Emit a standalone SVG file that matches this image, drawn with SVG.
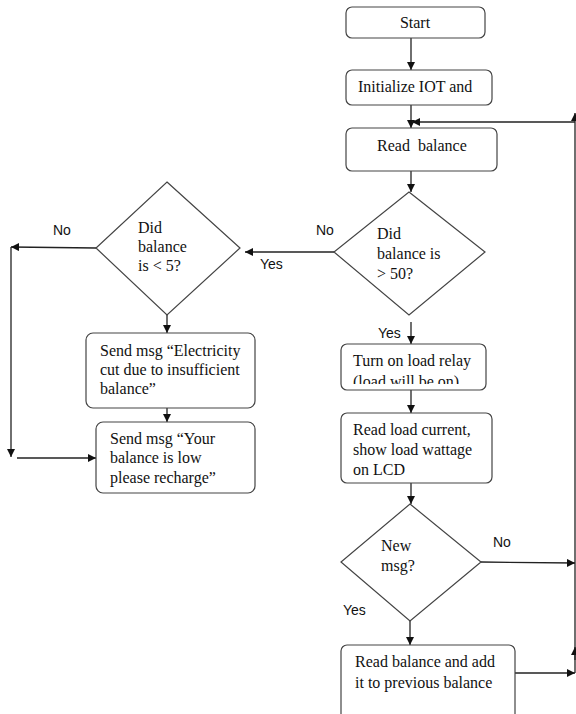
<svg xmlns="http://www.w3.org/2000/svg" width="576" height="714" viewBox="0 0 576 714">
<style>
.box{fill:#fff;stroke:#444;stroke-width:1.2}
.dia{fill:#fff;stroke:#444;stroke-width:1.2}
.t{font-family:"Liberation Sans",Arial,sans-serif;font-size:16px;fill:#111;white-space:pre}
.t{font-family:"Liberation Serif","Times New Roman",serif}
.lbl{font-family:"Liberation Sans",Arial,sans-serif;font-size:14px;fill:#111}
.ar{fill:none;stroke:#222;stroke-width:1.3;marker-end:url(#ah)}
</style>
<defs>
<marker id="ah" viewBox="0 0 10 10" refX="10" refY="5" markerWidth="8" markerHeight="8" markerUnits="userSpaceOnUse" orient="auto">
<path d="M0,0 L10,5 L0,10 z" fill="#111"/>
</marker>
<clipPath id="relayclip"><rect x="340" y="343" width="148" height="41"/></clipPath>
</defs>
<rect width="576" height="714" fill="#fff"/>

<g id="connectors">
<line class="ar" x1="411" y1="38" x2="411" y2="70"/>
<line class="ar" x1="411" y1="105" x2="411" y2="128"/>
<line class="ar" x1="575" y1="122" x2="412" y2="122"/>
<line class="ar" x1="575" y1="673" x2="575" y2="113"/>
<line class="ar" x1="575" y1="660" x2="575" y2="647"/>
<line class="ar" x1="411" y1="171" x2="411" y2="192"/>
<line class="ar" x1="334" y1="252" x2="245" y2="252"/>
<line class="ar" x1="411" y1="322" x2="411" y2="344"/>
<line class="ar" x1="411" y1="390" x2="411" y2="413"/>
<line class="ar" x1="411" y1="483" x2="411" y2="504"/>
<line class="ar" x1="481" y1="562" x2="575" y2="563"/>
<line class="ar" x1="410" y1="621" x2="410" y2="645"/>
<line class="ar" x1="515" y1="673" x2="575" y2="673"/>
<line class="ar" x1="96" y1="248" x2="11" y2="247"/>
<line class="ar" x1="11" y1="247" x2="11" y2="457"/>
<line class="ar" x1="17" y1="458" x2="96" y2="458"/>
<line class="ar" x1="167" y1="315" x2="167" y2="333"/>
<line class="ar" x1="167" y1="408" x2="167" y2="422"/>
</g>

<g id="start">
<rect class="box" x="346" y="7" width="139" height="31" rx="6"/>
<text class="t" x="415" y="28" text-anchor="middle">Start</text>
</g>
<g id="init">
<rect class="box" x="346" y="70" width="146" height="35" rx="6"/>
<text class="t" x="358" y="92">Initialize IOT and</text>
</g>
<g id="read-balance">
<rect class="box" x="346" y="128" width="151" height="43" rx="6"/>
<text class="t" x="377" y="151">Read  balance</text>
</g>
<g id="dec-50">
<polygon class="dia" points="409,192 485,252 409,315 334,252"/>
<text class="t" x="377" y="239">Did</text>
<text class="t" x="377" y="259">balance is</text>
<text class="t" x="377" y="279">&gt; 50?</text>
</g>
<g id="relay">
<rect class="box" x="341" y="344" width="145" height="46" rx="6"/>
<text class="t" x="353" y="366">Turn on load relay</text>
<text class="t" x="353" y="387" clip-path="url(#relayclip)">(load will be on)</text>
</g>
<g id="load-current">
<rect class="box" x="341" y="413" width="151" height="70" rx="6"/>
<text class="t" x="353" y="435">Read load current,</text>
<text class="t" x="353" y="455">show load wattage</text>
<text class="t" x="353" y="475">on LCD</text>
</g>
<g id="dec-msg">
<polygon class="dia" points="410,504 481,562 410,621 341,562"/>
<text class="t" x="381" y="551">New</text>
<text class="t" x="381" y="571">msg?</text>
</g>
<g id="add-balance">
<rect class="box" x="341" y="645" width="174" height="80" rx="6"/>
<text class="t" x="355" y="667">Read balance and add</text>
<text class="t" x="355" y="688">it to previous balance</text>
</g>
<g id="dec-5">
<polygon class="dia" points="167,182 240,248 167,315 96,248"/>
<text class="t" x="138" y="233">Did</text>
<text class="t" x="138" y="252">balance</text>
<text class="t" x="138" y="271">is &lt; 5?</text>
</g>
<g id="msg-cut">
<rect class="box" x="86" y="333" width="169" height="75" rx="7"/>
<text class="t" x="100" y="356">Send msg “Electricity</text>
<text class="t" x="100" y="375">cut due to insufficient</text>
<text class="t" x="100" y="394">balance”</text>
</g>
<g id="msg-low">
<rect class="box" x="96" y="422" width="159" height="71" rx="7"/>
<text class="t" x="110" y="444">Send msg “Your</text>
<text class="t" x="110" y="463">balance is low</text>
<text class="t" x="110" y="483">please recharge”</text>
</g>

<g id="labels">
<text class="lbl" x="316" y="235">No</text>
<text class="lbl" x="260" y="269">Yes</text>
<text class="lbl" x="53" y="235">No</text>
<text class="lbl" x="378" y="338">Yes</text>
<text class="lbl" x="493" y="547">No</text>
<text class="lbl" x="343" y="615">Yes</text>
</g>
</svg>
